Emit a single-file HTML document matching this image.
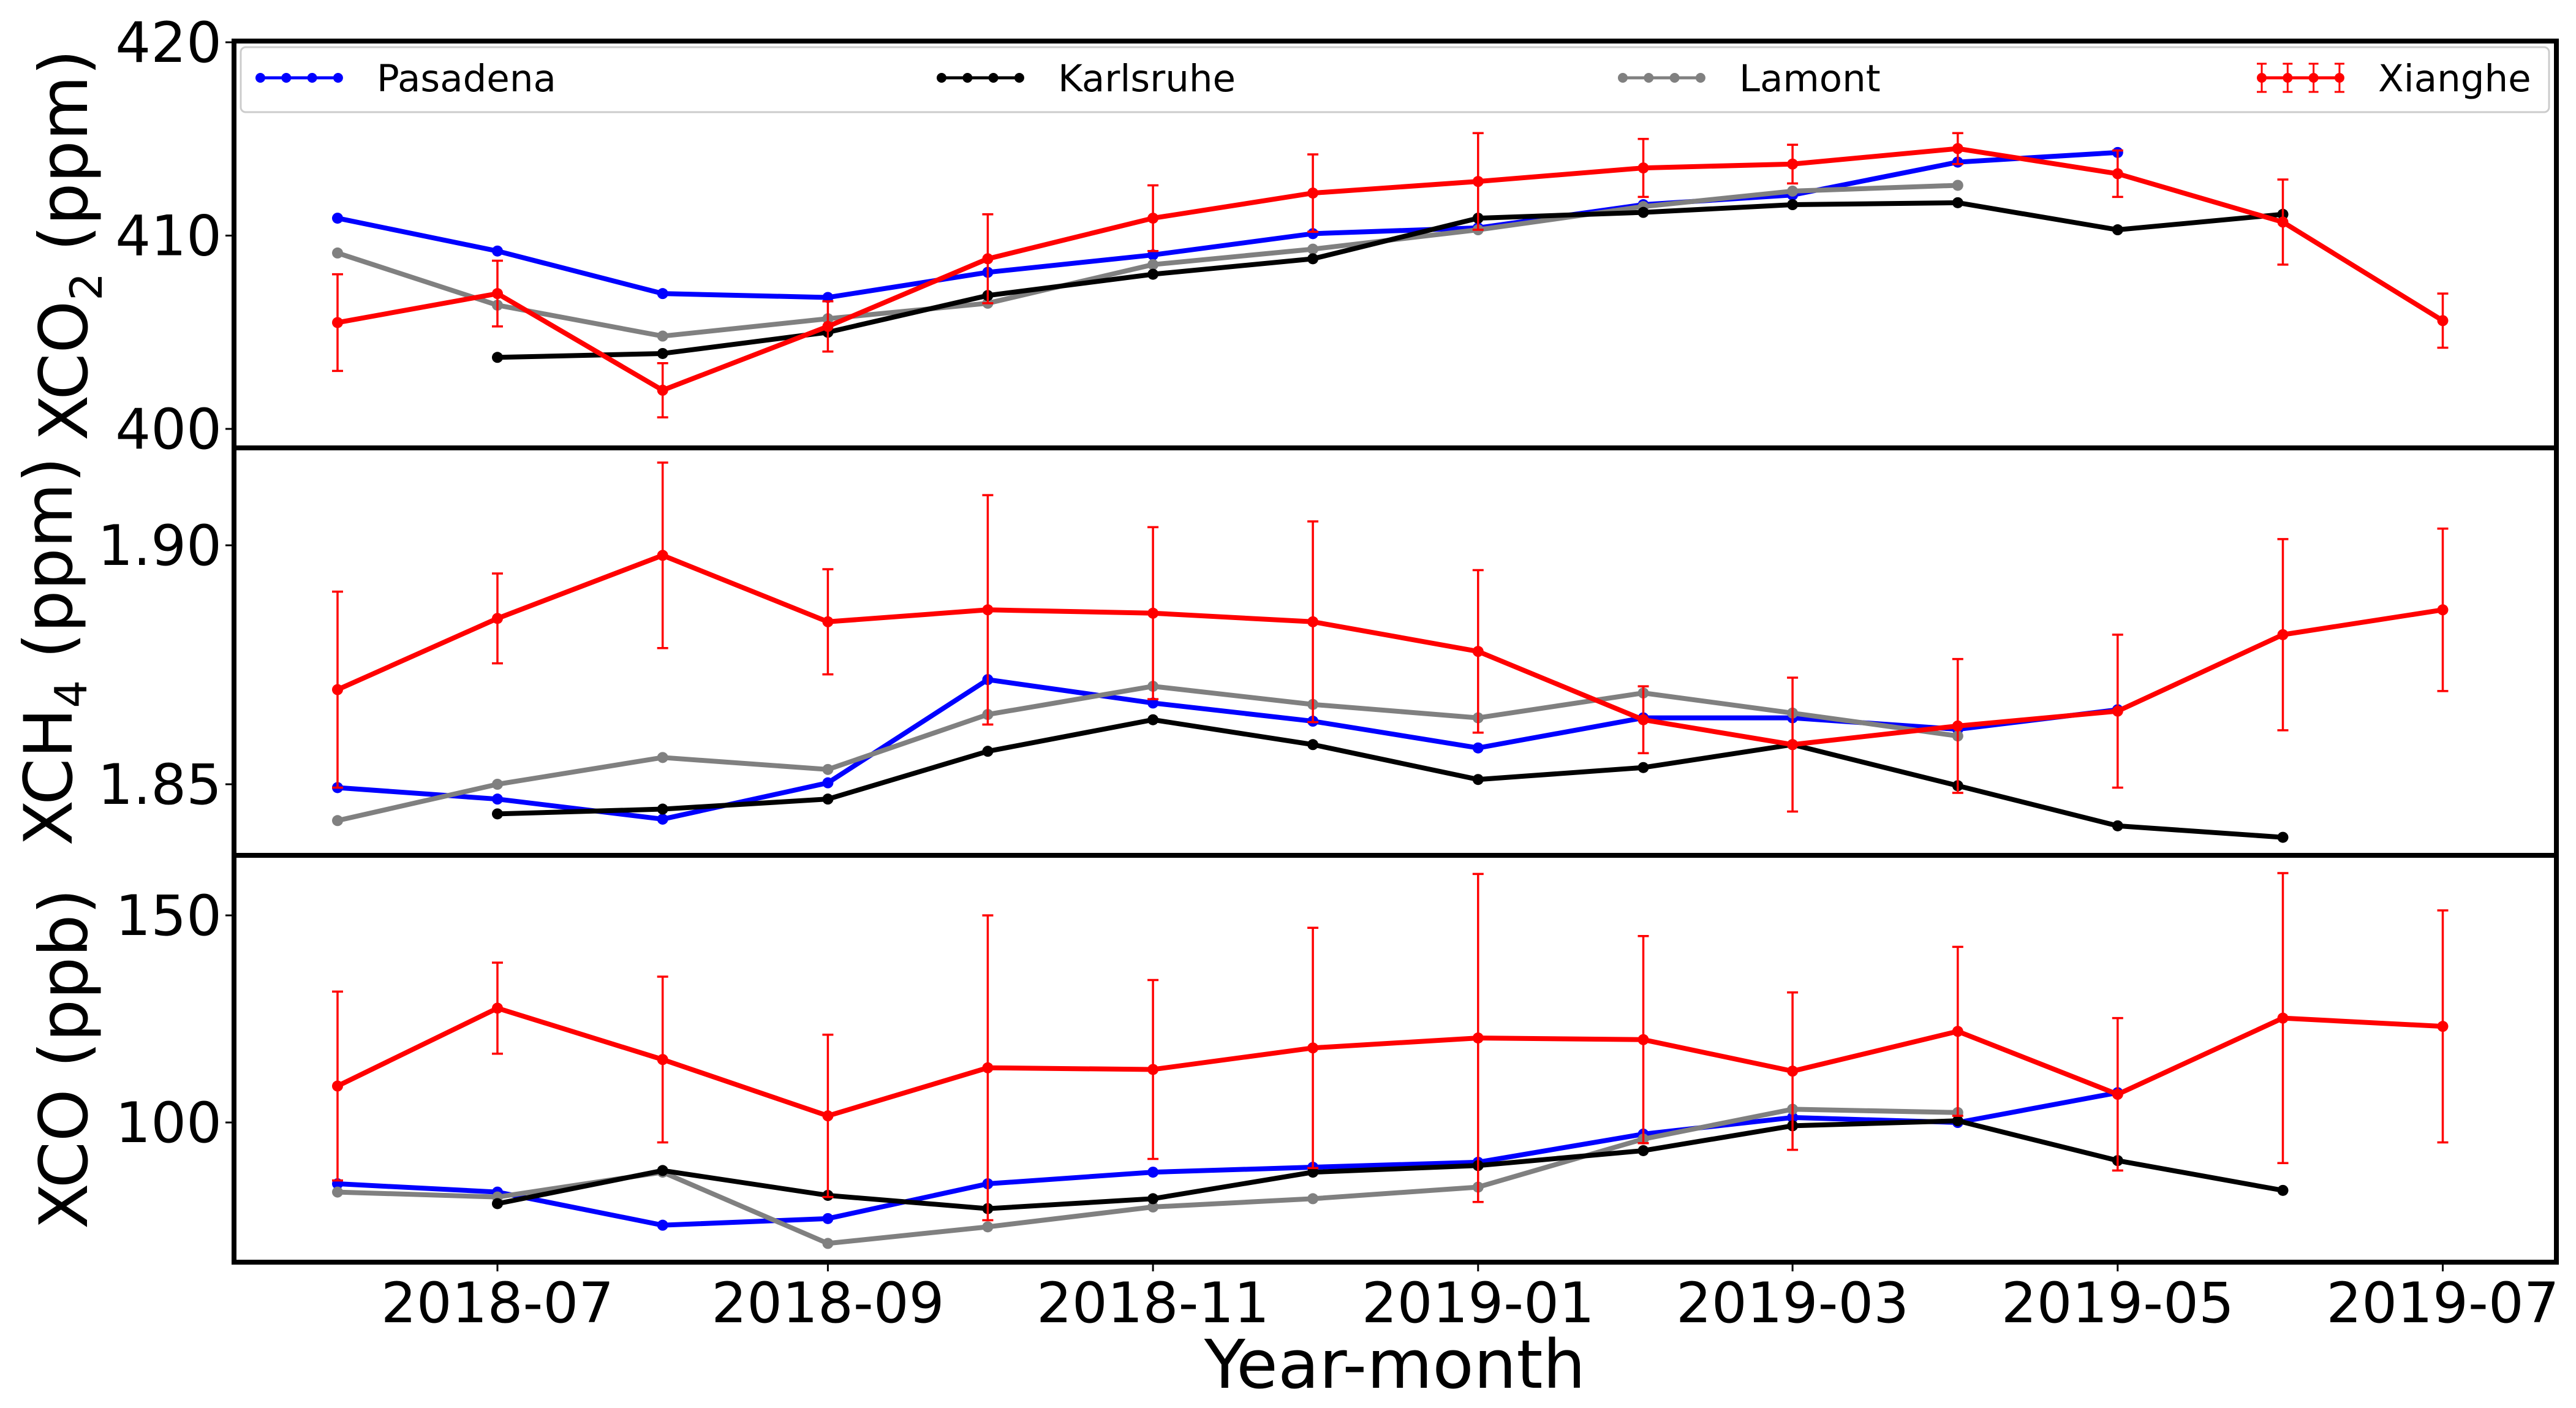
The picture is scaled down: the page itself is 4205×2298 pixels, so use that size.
<!DOCTYPE html>
<html><head><meta charset="utf-8"><style>
html,body{margin:0;padding:0;background:#fff;}
svg{display:block;font-family:"DejaVu Sans","Liberation Sans",sans-serif;}
</style></head><body>
<svg id="chart" width="4205" height="2298" viewBox="0 0 4205 2298" xmlns="http://www.w3.org/2000/svg"></svg>
<script>
const months = ["2018-06","2018-07","2018-08","2018-09","2018-10","2018-11","2018-12","2019-01","2019-02","2019-03","2019-04","2019-05","2019-06","2019-07"];
const xTickLabels = ["2018-07","2018-09","2018-11","2019-01","2019-03","2019-05","2019-07"];
// CO2 (ppm)
const co2Pasadena = [410.9,409.2,407.0,406.8,408.1,409.0,410.1,410.4,411.6,412.1,413.8,414.3,null,null];
const co2Karlsruhe = [null,403.7,403.9,405.0,406.9,408.0,408.8,410.9,411.2,411.6,411.7,410.3,411.1,null];
const co2Lamont = [409.1,406.4,404.8,405.7,406.5,408.5,409.3,410.3,411.5,412.3,412.6,null,null,null];
const co2Xianghe = [405.5,407.0,402.0,405.3,408.8,410.9,412.2,412.8,413.5,413.7,414.5,413.2,410.7,405.6];
const co2XiangheErr = [2.5,1.7,1.4,1.3,2.3,1.7,2.0,2.5,1.5,1.0,0.8,1.2,2.2,1.4];
// CH4 (ppm)
const ch4Pasadena = [1.8493,1.8469,1.8427,1.8503,1.8719,1.8670,1.8632,1.8576,1.8639,1.8639,1.8615,1.8656,null,null];
const ch4Karlsruhe = [null,1.8438,1.8448,1.8469,1.8569,1.8635,1.8583,1.8510,1.8535,1.8583,1.8497,1.8413,1.8389,null];
const ch4Lamont = [1.8424,1.8500,1.8556,1.8531,1.8646,1.8705,1.8667,1.8639,1.8691,1.8649,1.8601,null,null,null];
const ch4Xianghe = [1.8698,1.8847,1.8979,1.8840,1.8865,1.8858,1.8840,1.8778,1.8635,1.8583,1.8622,1.8653,1.8813,1.8865];
const ch4XiangheErr = [0.0205,0.0094,0.0194,0.0110,0.0240,0.0180,0.0210,0.0170,0.0070,0.0140,0.0140,0.0160,0.0200,0.0170];
// CO (ppb)
const coPasadena = [85.2,83.2,75.2,76.8,85.2,88.0,89.2,90.4,97.2,101.2,100.0,107.2,null,null];
const coKarlsruhe = [null,80.4,88.4,82.4,79.2,81.6,88.0,89.6,93.2,99.2,100.4,90.8,83.6,null];
const coLamont = [83.2,82.0,88.0,70.8,74.8,79.6,81.6,84.4,96.0,103.2,102.4,null,null,null];
const coXianghe = [108.8,127.6,115.2,101.6,113.2,112.8,118.0,120.4,120.0,112.4,122.0,106.8,125.2,123.2];
const coXiangheErr = [22.8,11.0,20.0,19.6,36.8,21.6,29.0,39.6,25.0,19.0,20.4,18.4,35.0,28.0];
const co2Ticks = [400,410,420];
const ch4Ticks = [1.85,1.90];
const coTicks = [100,150];

const NS="http://www.w3.org/2000/svg";
const svg=document.getElementById('chart');
function mk(tag,attrs,parent){const e=document.createElementNS(NS,tag);for(const k in attrs)e.setAttribute(k,attrs[k]);(parent||svg).appendChild(e);return e;}
const X0=382,X1=4173;
const t0=Date.UTC(2018,5,1);
function xOf(m){const [y,mo]=m.split('-').map(Number);return 551+(Date.UTC(y,mo-1,1)-t0)/86400000*8.7;}
function lin(v0,p0,v1,p1){return v=>p0+(v-v0)*(p1-p0)/(v1-v0);}
const panels=[
 {name:'co2',top:67,bot:731,y:lin(400,700,420,69),ticks:co2Ticks,fmt:v=>String(v),
  series:[[co2Pasadena,'#0000ff','pasadena'],[co2Lamont,'#808080','lamont'],[co2Karlsruhe,'#000000','karlsruhe']],xi:co2Xianghe,xe:co2XiangheErr},
 {name:'ch4',top:731,bot:1396,y:lin(1.85,1280,1.90,890),ticks:ch4Ticks,fmt:v=>v.toFixed(2),
  series:[[ch4Pasadena,'#0000ff','pasadena'],[ch4Lamont,'#808080','lamont'],[ch4Karlsruhe,'#000000','karlsruhe']],xi:ch4Xianghe,xe:ch4XiangheErr},
 {name:'co',top:1396,bot:2060,y:lin(100,1832,150,1494),ticks:coTicks,fmt:v=>String(v),
  series:[[coPasadena,'#0000ff','pasadena'],[coLamont,'#808080','lamont'],[coKarlsruhe,'#000000','karlsruhe']],xi:coXianghe,xe:coXiangheErr}
];
function drawSeries(g,vals,color,nm,pname){
  const P=[];vals.forEach((v,i)=>{if(v!==null)P.push([xOf(months[i]),pname.y(v)]);});
  const pl=mk('polyline',{points:P.map(p=>p.join(',')).join(' '),fill:'none',stroke:color,'stroke-width':8,'stroke-linejoin':'round'},g);
  
  
  P.forEach(p=>{const c=mk('circle',{cx:p[0],cy:p[1],r:9,fill:color},g);
    
    });
}
panels.forEach(p=>{
  const g=mk('g',{});
  
  
  const cp=mk('clipPath',{id:'clip-'+p.name},g);mk('rect',{x:X0,y:p.top,width:X1-X0,height:p.bot-p.top},cp);
  const inner=mk('g',{'clip-path':'url(#clip-'+p.name+')'},g);
  p.series.forEach(s=>drawSeries(inner,s[0],s[1],p.name+'-'+s[2],p));
  p.xi.forEach((v,i)=>{const x=xOf(months[i]),e=p.xe[i];
    const yt=p.y(v+e),yb=p.y(v-e);
    const eb=mk('path',{d:`M${x},${yt}V${yb}M${x-9},${yt}H${x+9}M${x-9},${yb}H${x+9}`,stroke:'#ff0000','stroke-width':3.5,fill:'none'},inner);
    
    
  });
  drawSeries(inner,p.xi,'#ff0000',p.name+'-xianghe',p);
  const fr=mk('rect',{x:X0,y:p.top,width:X1-X0,height:p.bot-p.top,fill:'none',stroke:'#000','stroke-width':8},g);
  
  
  p.ticks.forEach(t=>{const y=p.y(t);
    mk('line',{x1:X0-14,x2:X0,y1:y,y2:y,stroke:'#000','stroke-width':3},g);
    const tx=mk('text',{x:X0-20,y:y+32,'text-anchor':'end','font-size':91},g);tx.textContent=p.fmt(t);
    
    
  });
});
function ytitle(html,x,y,nm){const t=mk('text',{transform:`translate(${x},${y}) rotate(-90)`,'text-anchor':'middle','font-size':109},svg);t.innerHTML=html;
  }
ytitle('XCO<tspan font-size="72" dy="24">2</tspan><tspan dy="-24"> (ppm)</tspan>',142,400,'co2-y-axis-title');
ytitle('XCH<tspan font-size="72" dy="24">4</tspan><tspan dy="-24"> (ppm)</tspan>',117,1063,'ch4-y-axis-title');
ytitle('XCO (ppb)',142,1728,'co-y-axis-title');
xTickLabels.forEach(m=>{const x=xOf(m);
  mk('line',{x1:x,x2:x,y1:2060,y2:2075,stroke:'#000','stroke-width':3});
  const t=mk('text',{x:x,y:2158,'text-anchor':'middle','font-size':91});t.textContent=m;
  });
const xl=mk('text',{x:2277,y:2265,'text-anchor':'middle','font-size':110});xl.textContent='Year-month';

const lg=mk('g',{});

mk('rect',{x:393,y:77,width:3768,height:106,rx:8,fill:'#fff',stroke:'#cccccc','stroke-width':3},lg);
const legendNames=['Pasadena','Karlsruhe','Lamont','Xianghe'];
const legendColors=['#0000ff','#000000','#808080','#ff0000'];
const legendX=[425,1537,2649,3692];
legendNames.forEach((n,i)=>{const g=mk('g',{},lg);
  
  const x=legendX[i],y=127,c=legendColors[i];
  mk('line',{x1:x,x2:x+127,y1:y,y2:y,stroke:c,'stroke-width':5},g);
  for(let k=0;k<4;k++){const cx=x+k*42.3;mk('circle',{cx:cx,cy:y,r:8,fill:c},g);
    if(i===3)mk('path',{d:`M${cx},${y-23}V${y+23}M${cx-8},${y-23}H${cx+8}M${cx-8},${y+23}H${cx+8}`,stroke:c,'stroke-width':3},g);}
  const t=mk('text',{x:x+190,y:y+22,'font-size':61},g);t.textContent=n;
});
</script>
</body></html>
